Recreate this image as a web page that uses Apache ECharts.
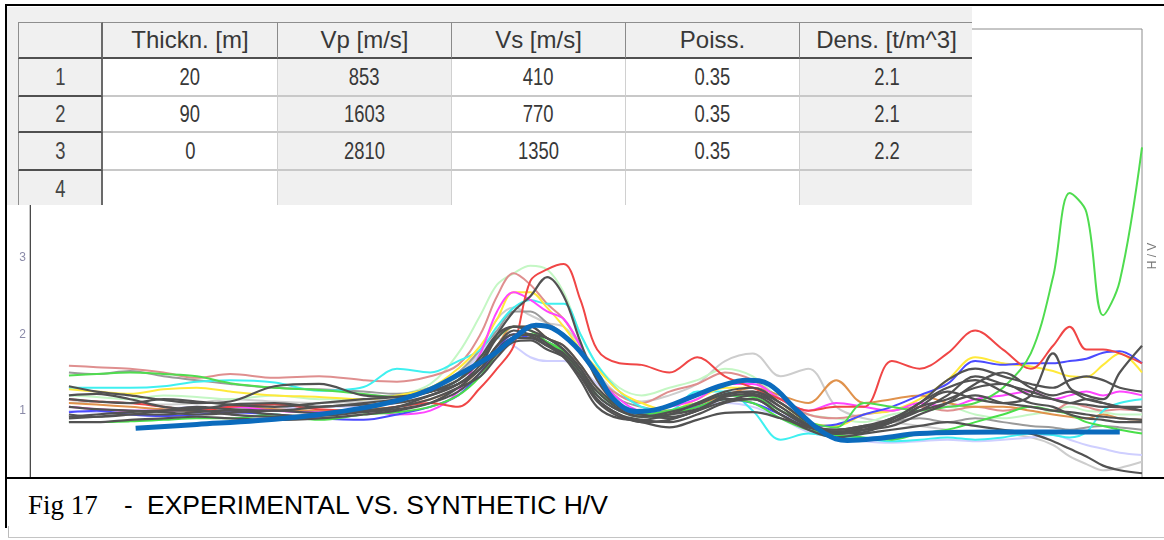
<!DOCTYPE html>
<html>
<head>
<meta charset="utf-8">
<title>Fig 17 - Experimental vs. synthetic H/V</title>
<script src="https://cdn.jsdelivr.net/npm/echarts@6/dist/echarts.min.js"></script>
<style>
  html, body { margin: 0; padding: 0; background: #fff; }
  #page { position: relative; width: 1164px; height: 540px; overflow: hidden; background: #fff; }
  #chart { position: absolute; left: 7px; top: 6px; width: 1157px; height: 481px; }
  #model { position: absolute; left: 7px; top: 7px; width: 965px; height: 198px; background: #f0f0f0; overflow: hidden; z-index: 2; }
  .cell { position: absolute; box-sizing: border-box; display: flex; align-items: center; justify-content: center;
          font: 24px "Liberation Sans", Arial, sans-serif; color: #383838; white-space: nowrap; }
  .cell span.num { display: inline-block; font-size: 23px; transform: scaleX(0.8); }
  #caption { position: absolute; left: 0; top: 478px; width: 1164px; height: 62px; background: #fff; z-index: 3; }
  .rule { position: absolute; z-index: 4; }
  .captxt { position: absolute; white-space: nowrap; color: #000; line-height: normal; }
</style>
</head>
<body>
<div id="page">
  <div id="chart"></div>
  <div id="model"></div>
  <div id="caption">
    <span class="captxt" style="left:28px; top:12px; font:27px 'Liberation Serif', 'Times New Roman', serif;">Fig 17</span>
    <span class="captxt" style="left:124px; top:12px; font:26px 'Liberation Sans', Arial, sans-serif;">-</span>
    <span class="captxt" style="left:147px; top:12px; font:26.5px 'Liberation Sans', Arial, sans-serif;">EXPERIMENTAL VS. SYNTHETIC H/V</span>
  </div>
  <div class="rule" style="left:5px; top:4px; width:1159px; height:2px; background:#000;"></div>
  <div class="rule" style="left:5px; top:4px; width:2px; height:524px; background:#000;"></div>
  <div class="rule" style="left:5px; top:477px; width:1159px; height:2px; background:#000;"></div>
  <div class="rule" style="left:8px; top:526px; width:1px; height:12px; background:#bbb;"></div>
  <div class="rule" style="left:8px; top:537px; width:1156px; height:1px; background:#c4c4c4;"></div>
</div>

<script>
// ---- layer model shown in the table ----
const LAYER_COLUMNS = ['Thickn. [m]', 'Vp [m/s]', 'Vs [m/s]', 'Poiss.', 'Dens. [t/m^3]'];
const LAYER_IDS = ['1', '2', '3', '4'];
const THICKNESS = ['20', '90', '0', ''];
const VP = ['853', '1603', '2810', ''];
const VS = ['410', '770', '1350', ''];
const POISSON = ['0.35', '0.35', '0.35', ''];
const DENSITY = ['2.1', '2.1', '2.2', ''];

// ---- H/V curves: shared frequency samples (axis units) ----
const FREQ = [3.5, 6, 9, 12, 15, 18, 22, 26, 30, 33, 36, 38.5, 40.5, 42, 43.5, 45, 46.5, 48, 49.5, 51,
              53, 55, 57.5, 60, 62.5, 65, 67.5, 70, 72.5, 75, 77.5, 80, 82.5, 85, 87.5, 90, 92, 93.5, 95, 96.5, 98, 100];

// experimental H/V, one array per recording
const HV_GREEN = [1.46,1.48,1.50,1.48,1.45,1.36,1.30,1.27,1.22,1.18, 1.25,1.40,1.70,1.95,2.10,2.05,1.90,1.75,1.50,1.25,
                  1.05,0.95,1.00,1.10,1.20,1.18,1.00,0.85,0.78,1.10, 1.05,1.00,1.05,1.10,1.30,1.75,2.75,3.85,3.60,2.25, 2.70,4.45];
const HV_RED = [1.15,1.12,1.10,1.05,1.00,1.05,1.08,1.02,1.00,1.05, 1.10,1.05,1.30,1.55,1.85,2.70,2.85,2.92,2.45,1.80,
                1.62,1.60,1.50,1.70,1.45,1.30,1.15,1.00,1.05,1.05, 1.65,1.55,1.75,2.05,1.80,1.55,1.85,2.10,1.80,1.80, 1.75,1.62];
const HV_ROSE = [1.59,1.57,1.55,1.50,1.43,1.48,1.43,1.45,1.40,1.38, 1.45,1.60,2.00,2.50,2.80,2.65,2.40,2.20,1.85,1.45,
                 1.20,1.10,1.25,1.35,1.50,1.40,1.15,0.95,0.90,0.95, 1.00,1.05,1.00,1.05,1.00,1.05,1.00,1.10,1.05,1.00, 1.02,1.00];
const HV_CYAN = [1.30,1.30,1.30,1.32,1.38,1.40,1.37,1.26,1.31,1.55, 1.50,1.65,1.80,2.10,2.35,2.45,2.40,2.40,2.00,1.60,
                 1.25,1.05,1.00,1.25,1.25,1.00,0.62,0.70,0.65,0.63, 0.60,0.62,0.65,0.62,0.65,0.70,0.68,0.65,0.72,1.00, 1.10,1.15];
const HV_YELLOW = [1.28,1.25,1.22,1.28,1.30,1.25,1.20,1.18,1.15,1.20, 1.30,1.55,1.85,2.20,2.55,2.55,2.35,2.10,1.80,1.55,
                   1.25,1.10,1.00,1.15,1.30,1.30,1.10,0.85,0.80,0.95, 1.00,1.15,1.40,1.70,1.62,1.58,1.52,1.45,1.44,1.60, 1.75,1.50];
const HV_MAGENTA = [1.05,1.02,1.00,1.00,1.02,1.05,1.00,0.98,1.00,0.95, 1.00,1.25,1.75,2.30,2.55,2.45,2.30,2.20,1.85,1.45,
                    1.15,1.00,1.05,1.15,1.35,1.35,1.15,1.00,1.10,1.05, 1.00,1.10,1.05,1.15,1.20,1.25,1.15,1.20,1.25,1.20, 1.25,1.20];
const HV_BLUE = [0.98,1.00,0.95,0.93,0.95,0.98,0.95,0.90,0.88,0.95, 1.05,1.20,1.50,1.80,2.00,1.95,1.90,1.75,1.50,1.20,
                 1.00,0.95,1.00,1.05,1.15,1.10,0.95,0.80,0.82,0.95, 1.05,1.20,1.35,1.65,1.60,1.62,1.62,1.65,1.68,1.76, 1.78,1.62];
const HV_ORANGE = [1.10,1.08,1.05,1.02,1.00,1.05,1.02,1.00,1.02,1.05, 1.15,1.30,1.55,1.85,2.10,2.10,1.95,1.85,1.60,1.30,
                   1.05,0.95,0.98,1.08,1.20,1.30,1.20,1.10,1.40,1.10, 1.15,1.20,1.10,1.05,1.05,1.00,0.95,0.92,0.90,0.95, 0.90,0.88];
const HV_SILVER = [1.10,1.12,1.10,1.08,1.10,1.15,1.12,1.10,1.12,1.15, 1.25,1.45,1.80,2.20,2.35,2.25,2.15,2.10,1.85,1.50,
                   1.20,1.12,1.20,1.35,1.65,1.75,1.45,1.55,1.05,0.90, 0.85,0.80,0.75,0.72,0.70,0.65,0.55,0.40,0.30,0.22, 0.25,0.33];
const HV_MINT = [1.20,1.18,1.15,1.20,1.18,1.15,1.20,1.15,1.15,1.20, 1.35,1.75,2.25,2.65,2.80,2.90,2.85,2.55,2.00,1.60,
                 1.30,1.20,1.30,1.40,1.55,1.45,1.15,0.95,0.90,0.85, 0.95,1.00,1.05,0.95,0.90,0.95,1.00,1.05,1.00,0.98, 0.95,0.95];
const HV_LAVENDER = [1.00,0.98,1.00,1.02,1.05,1.00,1.02,1.05,1.05,1.10, 1.20,1.40,1.75,1.95,1.85,1.70,1.65,1.65,1.55,1.35,
                     1.10,1.00,1.00,1.05,1.10,1.05,0.90,0.72,0.65,0.60, 0.58,0.60,0.62,0.60,0.62,0.65,0.68,0.62,0.55,0.50, 0.45,0.42];
const HV_GREY = [1.50,1.48,1.52,1.45,1.40,1.35,1.30,1.28,1.25,1.22, 1.30,1.50,1.80,2.05,2.30,2.30,2.15,2.00,1.75,1.45,
                 1.15,1.05,1.00,1.10,1.20,1.20,1.00,0.80,0.75,0.80, 0.85,0.90,0.85,0.90,0.85,0.80,0.78,0.75,0.78,0.80, 0.78,0.75];
const HV_GREEN_LOW = [0.85,0.85,0.86,0.88,0.90,0.90,0.95,0.88,0.95,0.98, 1.05,1.20,1.45,1.75,1.95,2.00,1.90,1.78,1.50,1.20,
                      1.00,0.92,0.95,1.05,1.15,1.10,0.90,0.75,0.68,0.65, 0.62,0.70,0.75,0.85,0.95,1.05,1.00,0.95,0.85,0.80, 0.75,0.70];
const HV_DARK_1 = [1.20,1.22,1.15,1.05,1.02,1.08,1.10,1.05,1.10,1.15, 1.25,1.40,1.65,2.00,2.30,2.50,2.75,2.50,1.90,1.40,
                   1.05,0.95,0.90,1.00,1.15,1.15,0.95,0.78,0.75,0.80, 0.85,1.05,1.15,1.30,1.35,1.20,1.15,1.10,1.08,1.05, 1.05,1.00];
const HV_DARK_2 = [1.32,1.25,1.20,1.14,1.10,1.12,1.32,1.35,1.20,1.18, 1.25,1.35,1.55,1.85,2.05,2.00,1.95,1.80,1.55,1.20,
                   1.00,0.92,0.98,1.08,1.22,1.25,1.10,0.85,0.72,0.75, 0.80,0.95,1.10,1.35,1.50,1.30,1.20,1.25,1.15,1.10, 1.05,1.05];
const HV_DARK_3 = [0.85,0.85,0.88,0.90,0.92,0.90,0.88,0.90,0.95,1.00, 1.10,1.30,1.55,1.80,1.95,1.95,1.85,1.75,1.50,1.15,
                   0.95,0.88,0.85,0.95,1.10,1.15,0.95,0.75,0.65,0.70, 0.75,0.80,0.85,0.80,0.75,0.70,0.60,0.50,0.40,0.28, 0.22,0.18];
const HV_DARK_4 = [0.95,0.92,0.95,1.00,1.05,1.02,1.00,1.05,1.08,1.10, 1.20,1.35,1.60,1.95,2.10,2.10,1.95,1.85,1.60,1.30,
                   1.05,0.95,0.92,1.00,1.20,1.25,1.05,0.80,0.70,0.75, 0.85,1.05,1.25,1.15,1.10,1.20,1.75,1.30,1.20,1.15, 1.50,1.85];
const HV_DARK_5 = [1.05,1.02,1.00,0.98,0.95,0.97,1.00,0.97,1.00,1.05, 1.15,1.30,1.45,1.70,1.90,1.92,1.80,1.70,1.45,1.15,
                   0.95,0.85,0.88,1.00,1.12,1.20,1.00,0.80,0.72,0.78, 0.88,1.10,1.30,1.40,1.25,1.10,1.05,0.95,0.90,0.88, 0.85,0.85];
const HV_DARK_6 = [0.90,0.92,0.95,0.95,0.98,1.00,0.95,0.93,0.98,1.02, 1.10,1.25,1.50,1.75,1.95,2.00,1.88,1.72,1.45,1.12,
                   0.92,0.85,0.78,0.88,0.97,0.98,0.90,0.78,0.70,0.72, 0.85,1.00,1.20,1.45,1.35,1.25,1.15,1.10,1.15,1.10, 1.05,1.00];
const HV_DARK_7 = [1.15,1.12,1.10,1.15,1.12,1.08,1.05,1.10,1.15,1.18, 1.25,1.40,1.70,2.00,2.10,2.05,1.95,1.80,1.55,1.25,
                   1.02,0.92,0.95,1.02,1.18,1.22,1.05,0.82,0.75,0.80, 0.90,1.10,1.40,1.55,1.45,1.35,1.30,1.40,1.45,1.40, 1.30,1.25];
const HV_DARK_8 = [0.92,0.95,0.98,1.00,1.00,0.95,0.92,0.95,1.00,1.05, 1.20,1.35,1.55,1.85,2.00,1.98,1.85,1.70,1.40,1.05,
                   0.90,0.88,0.95,1.10,1.25,1.30,1.10,0.85,0.70,0.75, 0.90,1.00,1.10,1.20,1.10,1.05,1.00,0.98,0.95,0.92, 0.90,0.88];

// synthetic H/V of the layer model
const SYN_FREQ = [9.5, 15, 20.5, 26, 30.5, 33.5, 36, 38.5, 41.5, 43.5, 45.5, 47, 49, 51, 52.5, 54.5, 56.5, 59.5,
                  62, 64.5, 66.5, 69, 71.5, 73.5, 76.5, 80, 87, 98];
const SYN_HV = [0.77, 0.82, 0.87, 0.95, 1.05, 1.15, 1.28, 1.47, 1.72, 1.95, 2.12, 2.08, 1.85, 1.48, 1.15, 0.99, 1.02, 1.18,
                1.32, 1.40, 1.34, 1.00, 0.70, 0.61, 0.64, 0.70, 0.72, 0.72];

const Y_TICKS = [0, 1, 2, 3, 4, 5, 6];

// ---- table ----
(function buildTable() {
  const host = document.getElementById('model');
  const colEdges = [11, 96, 271, 445, 619, 793, 967];
  const rowEdges = [15, 52, 90, 126, 164, 202];
  const shadedCols = [2, 5];          // Vp and density columns are read-only (grey)
  const columns = [LAYER_IDS, THICKNESS, VP, VS, POISSON, DENSITY];
  function cell(c, r, text, css, numeric) {
    const d = document.createElement('div');
    d.className = 'cell';
    d.style.left = colEdges[c] + 'px';
    d.style.top = rowEdges[r] + 'px';
    d.style.width = (colEdges[c + 1] - colEdges[c]) + 'px';
    d.style.height = (rowEdges[r + 1] - rowEdges[r]) + 'px';
    Object.assign(d.style, css);
    if (numeric && text) {
      const s = document.createElement('span');
      s.className = 'num';
      s.textContent = text;
      d.appendChild(s);
    } else {
      d.textContent = text;
    }
    host.appendChild(d);
  }
  // header row
  for (let c = 0; c < 6; c++) {
    cell(c, 0, c === 0 ? '' : LAYER_COLUMNS[c - 1], {
      background: '#f0f0f0',
      borderTop: '1px solid #8e8e8e',
      borderLeft: c === 0 ? '1px solid #8e8e8e' : 'none',
      borderRight: c === 0 ? '2px solid #6a6a6a' : '1px solid #8a8a8a',
      borderBottom: '2px solid #505050'
    }, false);
  }
  // body rows
  for (let r = 1; r <= 4; r++) {
    for (let c = 0; c < 6; c++) {
      const isId = c === 0;
      cell(c, r, columns[c][r - 1], {
        background: isId || shadedCols.includes(c) ? '#f0f0f0' : '#ffffff',
        borderLeft: isId ? '1px solid #8e8e8e' : 'none',
        borderRight: isId ? '2px solid #6a6a6a' : '1px solid #d0d0d0',
        borderBottom: isId ? '2px solid #505050' : '2px solid #c8c8c8',
        color: isId ? '#444' : '#383838'
      }, true);
    }
  }
})();

// ---- chart ----
const chart = echarts.init(document.getElementById('chart'), null, { renderer: 'canvas' });

function curve(values, color, width, z) {
  return {
    type: 'line',
    data: FREQ.map((f, i) => [f, values[i]]),
    smooth: 0.35,
    symbol: 'none',
    silent: true,
    z: z,
    lineStyle: { color: color, width: width },
    emphasis: { disabled: true }
  };
}

const GREY_DARK = '#525252';
const series = [
  curve(HV_SILVER, '#cdcdcd', 2, 2),
  curve(HV_LAVENDER, '#cfcfff', 2, 2),
  curve(HV_MINT, '#c4f7c4', 2, 2),
  curve(HV_ROSE, '#df8f8f', 2, 2),
  curve(HV_GREY, '#9a9a9a', 2, 2),
  curve(HV_CYAN, '#3ff0f0', 2, 2),
  curve(HV_YELLOW, '#ffe93a', 2, 2),
  curve(HV_ORANGE, '#e0924c', 2, 2),
  curve(HV_MAGENTA, '#ff45ff', 2, 2),
  curve(HV_BLUE, '#4b4bff', 2, 2),
  curve(HV_GREEN_LOW, '#49df49', 2, 2),
  curve(HV_RED, '#f04646', 2, 3),
  curve(HV_GREEN, '#4fdc4f', 2, 3),
  curve(HV_DARK_1, GREY_DARK, 2.2, 4),
  curve(HV_DARK_2, GREY_DARK, 2.2, 4),
  curve(HV_DARK_3, GREY_DARK, 2.2, 4),
  curve(HV_DARK_4, GREY_DARK, 2.2, 4),
  curve(HV_DARK_5, GREY_DARK, 2.2, 4),
  curve(HV_DARK_6, GREY_DARK, 2.2, 4),
  curve(HV_DARK_7, GREY_DARK, 2.2, 4),
  curve(HV_DARK_8, GREY_DARK, 2.2, 4),
  {
    type: 'line',
    name: 'synthetic',
    data: SYN_FREQ.map((f, i) => [f, SYN_HV[i]]),
    smooth: 0.4,
    symbol: 'none',
    silent: true,
    z: 10,
    lineStyle: { color: '#0b6bbd', width: 5, cap: 'butt' },
    emphasis: { disabled: true }
  }
];

chart.setOption({
  animation: false,
  grid: { left: 23, right: 22, top: 23, bottom: 0, show: true, borderColor: '#8c8c8c', borderWidth: 1 },
  xAxis: { type: 'value', min: 0, max: 100, show: false },
  yAxis: {
    type: 'value',
    min: Y_TICKS[0],
    max: Y_TICKS[Y_TICKS.length - 1],
    interval: 1,
    axisLine: { show: true, lineStyle: { color: '#4a4a4a', width: 1 } },
    axisTick: { show: false },
    splitLine: { show: false },
    axisLabel: { color: '#8a8aa8', fontSize: 12, margin: 4, fontFamily: 'Liberation Sans', showMinLabel: false }
  },
  graphic: [{
    type: 'text',
    x: 1146,
    y: 250,
    rotation: Math.PI / 2,
    silent: true,
    style: { text: 'H / V', fill: '#777', font: '12px "Liberation Sans", Arial, sans-serif', textAlign: 'center', textVerticalAlign: 'middle' }
  }],
  series: series
});
</script>
</body>
</html>
